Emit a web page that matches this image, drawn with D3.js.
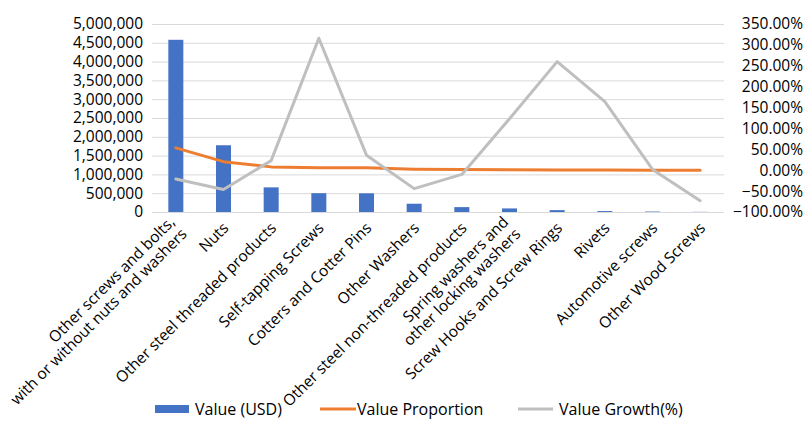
<!DOCTYPE html>
<html>
<head>
<meta charset="utf-8">
<script src="https://cdn.jsdelivr.net/npm/d3@7"></script>
<style>
  body { margin: 0; background: #fff; }
  text { font-family: "Open Sans", sans-serif; fill: #000; }
</style>
</head>
<body>
<svg id="chart" width="803" height="421"></svg>
<script>
// data
var categories = [
  "Other screws and bolts,|with or without nuts and washers",
  "Nuts",
  "Other steel threaded products",
  "Self-tapping Screws",
  "Cotters and Cotter Pins",
  "Other Washers",
  "Other steel non-threaded products",
  "Spring washers and|other locking washers",
  "Screw Hooks and Screw Rings",
  "Rivets",
  "Automotive screws",
  "Other Wood Screws"
];
var valueUSD = [4580000, 1775000, 655000, 500000, 497000, 220000, 130000, 95000, 50000, 25000, 12000, 4000];
var valueProportion = [53.5, 20.5, 8.0, 6.0, 5.9, 2.6, 1.6, 1.1, 0.6, 0.3, 0.15, 0.05];
var valueGrowth = [-21, -46, 23, 316, 36, -44, -10, 123, 260, 164, 2, -73];
var leftTicks = d3.range(0, 5000001, 500000);
var rightTicks = d3.range(-100, 351, 50);

var svg = d3.select("#chart"),
    plotL = 152, plotR = 724, plotT = 24, plotB = 212;

var x = d3.scaleBand().domain(d3.range(categories.length)).range([plotL, plotR]),
    yL = d3.scaleLinear().domain([0, 5000000]).range([plotB, plotT]),
    yR = d3.scaleLinear().domain([-100, 350]).range([plotB, plotT]);

// gridlines
svg.append("g")
  .attr("transform", "translate(" + plotL + ",0)")
  .call(d3.axisLeft(yL).tickValues(leftTicks).tickSize(-(plotR - plotL)).tickFormat(""))
  .call(function(g) { g.select(".domain").remove(); })
  .selectAll("line").attr("stroke", "#d9d9d9").attr("stroke-width", 1);

// left axis labels
svg.append("g")
  .attr("transform", "translate(" + plotL + ",0)")
  .call(d3.axisLeft(yL).tickValues(leftTicks).tickSize(0).tickPadding(9).tickFormat(d3.format(",")))
  .call(function(g) { g.select(".domain").remove(); })
  .selectAll("text").style("font-size", "15.5px").style("font-family", "Open Sans").attr("fill", "#000");

// right axis labels
svg.append("g")
  .attr("transform", "translate(803,0)")
  .call(d3.axisLeft(yR).tickValues(rightTicks).tickSize(0).tickPadding(0)
    .tickFormat(function(d) { return d3.format(".2f")(d) + "%"; }))
  .call(function(g) { g.select(".domain").remove(); })
  .selectAll("text").style("font-size", "15.5px").style("font-family", "Open Sans").attr("fill", "#000");

// bars
var bw = 15;
svg.append("g").selectAll("rect")
  .data(valueUSD)
  .enter().append("rect")
  .attr("x", function(d, i) { return x(i) + x.bandwidth() / 2 - bw / 2; })
  .attr("y", function(d) { return yL(d); })
  .attr("width", bw)
  .attr("height", function(d) { return plotB - yL(d); })
  .attr("fill", "#4472c4");

var cx = function(d, i) { return x(i) + x.bandwidth() / 2; };

svg.append("path")
  .datum(valueProportion)
  .attr("fill", "none")
  .attr("stroke", "#ed7d31")
  .attr("stroke-width", 3)
  .attr("stroke-linejoin", "round")
  .attr("stroke-linecap", "round")
  .attr("d", d3.line().x(cx).y(function(d) { return yR(d); }));

svg.append("path")
  .datum(valueGrowth)
  .attr("fill", "none")
  .attr("stroke", "#bfbfbf")
  .attr("stroke-width", 3)
  .attr("stroke-linejoin", "round")
  .attr("stroke-linecap", "round")
  .attr("d", d3.line().x(cx).y(function(d) { return yR(d); }));

// category labels
var lh = 17;
var lab = svg.append("g").selectAll("text")
  .data(categories)
  .enter().append("text")
  .attr("text-anchor", "end")
  .style("font-size", "15.5px")
  .attr("transform", function(d, i) { return "translate(" + (cx(d, i) + 6) + "," + (plotB + 17) + ") rotate(-45)"; });

lab.selectAll("tspan")
  .data(function(d) {
    var parts = d.split("|");
    return parts.map(function(p, k) { return { t: p, off: (k - (parts.length - 1) / 2) * lh }; });
  })
  .enter().append("tspan")
  .attr("x", 0)
  .attr("y", function(d) { return d.off; })
  .text(function(d) { return d.t; });

// legend
var legend = svg.append("g");
legend.append("rect").attr("x", 155).attr("y", 405).attr("width", 34).attr("height", 8).attr("fill", "#4472c4");
legend.append("text").attr("x", 195).attr("y", 415).style("font-size", "16px").text("Value (USD)");
legend.append("line").attr("x1", 320).attr("x2", 356).attr("y1", 409).attr("y2", 409)
  .attr("stroke", "#ed7d31").attr("stroke-width", 3);
legend.append("text").attr("x", 357).attr("y", 415).style("font-size", "16px").text("Value Proportion");
legend.append("line").attr("x1", 518).attr("x2", 553).attr("y1", 409).attr("y2", 409)
  .attr("stroke", "#bfbfbf").attr("stroke-width", 3);
legend.append("text").attr("x", 559).attr("y", 415).style("font-size", "16px").text("Value Growth(%)");
</script>
</body>
</html>
